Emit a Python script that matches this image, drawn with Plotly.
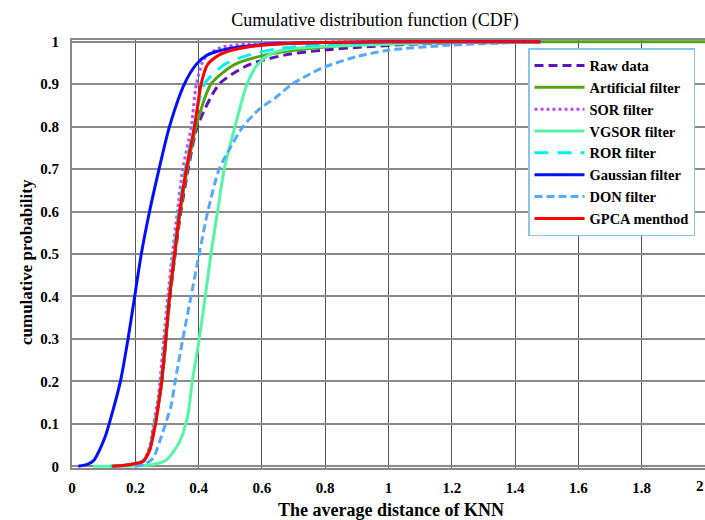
import plotly.graph_objects as go

# ---- data ----
raw_x = [0.13, 0.19, 0.225, 0.245, 0.261, 0.276, 0.284, 0.297, 0.31, 0.326, 0.344, 0.367, 0.396, 0.465, 0.56, 0.675, 0.79, 0.93, 1.1, 1.3, 1.48]
raw_y = [0, 0.005, 0.012, 0.038, 0.096, 0.159, 0.2, 0.3, 0.4, 0.5, 0.6, 0.7, 0.8, 0.9, 0.946, 0.969, 0.98, 0.988, 0.995, 0.999, 1]

art_x = [0.13, 0.19, 0.225, 0.245, 0.261, 0.276, 0.284, 0.297, 0.309, 0.325, 0.342, 0.364, 0.392, 0.439, 0.513, 0.612, 0.748, 0.89, 1.1, 1.4, 2.0]
art_y = [0, 0.005, 0.012, 0.038, 0.096, 0.159, 0.2, 0.3, 0.4, 0.5, 0.6, 0.7, 0.8, 0.9, 0.946, 0.969, 0.984, 0.993, 0.998, 1, 1]

sor_x = [0.13, 0.19, 0.225, 0.243, 0.258, 0.272, 0.278, 0.29, 0.303, 0.317, 0.333, 0.35, 0.377, 0.393, 0.418, 0.465, 0.56, 0.7, 1.0, 1.48]
sor_y = [0, 0.005, 0.013, 0.04, 0.1, 0.16, 0.2, 0.3, 0.4, 0.5, 0.6, 0.7, 0.8, 0.9, 0.96, 0.985, 0.995, 0.998, 1, 1]

vgsor_x = [0.066, 0.245, 0.298, 0.34, 0.366, 0.38, 0.402, 0.421, 0.439, 0.46, 0.481, 0.515, 0.553, 0.586, 0.622, 0.664, 0.8, 0.95, 1.2, 1.48]
vgsor_y = [0, 0.003, 0.015, 0.058, 0.12, 0.2, 0.3, 0.4, 0.5, 0.6, 0.7, 0.8, 0.9, 0.946, 0.969, 0.98, 0.989, 0.993, 0.998, 1]

ror_x = [0.12, 0.19, 0.225, 0.244, 0.26, 0.275, 0.281, 0.294, 0.306, 0.321, 0.337, 0.358, 0.385, 0.418, 0.481, 0.56, 0.654, 0.8, 1.0, 1.48]
ror_y = [0, 0.005, 0.012, 0.038, 0.096, 0.159, 0.2, 0.3, 0.4, 0.5, 0.6, 0.7, 0.8, 0.9, 0.946, 0.969, 0.984, 0.993, 0.999, 1]

gau_x = [0.02, 0.05, 0.07, 0.088, 0.105, 0.125, 0.153, 0.177, 0.198, 0.219, 0.245, 0.275, 0.308, 0.355, 0.392, 0.428, 0.497, 0.6, 0.8, 1.0, 1.48]
gau_y = [0, 0.005, 0.015, 0.04, 0.07, 0.12, 0.2, 0.3, 0.4, 0.5, 0.6, 0.7, 0.8, 0.9, 0.946, 0.969, 0.984, 0.993, 0.998, 1.0, 1.0]

don_x = [0.2, 0.23, 0.256, 0.287, 0.313, 0.326, 0.35, 0.376, 0.402, 0.429, 0.465, 0.5, 0.54, 0.59, 0.643, 0.695, 0.79, 0.9, 1.0, 1.195, 1.4, 1.48]
don_y = [0, 0.005, 0.019, 0.081, 0.143, 0.2, 0.3, 0.4, 0.5, 0.6, 0.7, 0.75, 0.8, 0.84, 0.868, 0.9, 0.938, 0.965, 0.98, 0.992, 0.998, 1]

gpca_x = [0.126, 0.19, 0.225, 0.245, 0.264, 0.276, 0.283, 0.296, 0.308, 0.324, 0.34, 0.361, 0.387, 0.408, 0.428, 0.465, 0.528, 0.62, 0.8, 1.0, 1.48]
gpca_y = [0, 0.005, 0.012, 0.038, 0.1, 0.16, 0.2, 0.3, 0.4, 0.5, 0.6, 0.7, 0.8, 0.9, 0.946, 0.969, 0.984, 0.993, 0.998, 1, 1]

x_ticks = [0, 0.2, 0.4, 0.6, 0.8, 1, 1.2, 1.4, 1.6, 1.8, 2]
y_ticks = [0, 0.1, 0.2, 0.3, 0.4, 0.5, 0.6, 0.7, 0.8, 0.9, 1]

series = [
    ("Raw data", raw_x, raw_y, "#5c14b4", "9px,5px"),
    ("Artificial filter", art_x, art_y, "#52a316", "solid"),
    ("SOR filter", sor_x, sor_y, "#b44cf5", "3px,3px"),
    ("VGSOR filter", vgsor_x, vgsor_y, "#55f5a5", "solid"),
    ("ROR filter", ror_x, ror_y, "#00f0f0", "14px,9px"),
    ("Gaussian filter", gau_x, gau_y, "#0010ff", "solid"),
    ("DON filter", don_x, don_y, "#55aaff", "8px,4px"),
    ("GPCA menthod", gpca_x, gpca_y, "#ff0000", "solid"),
]

SERIF = "Liberation Serif"
L, R, T, B = 72, 0, 40, 52
PW, PH = 705 - L - R, 520 - T - B

fig = go.Figure()
for name, xs, ys, col, dash in series:
    fig.add_trace(go.Scatter(x=xs, y=ys, mode="lines", name=f"<b>{name}</b>",
                             line=dict(color=col, width=3, dash=dash,
                                       shape="spline", smoothing=0.7)))

annotations = [
    dict(text="<b>The average distance of KNN</b>", xref="paper", yref="paper",
         x=(391 - L) / PW, y=-(510 - (520 - B)) / PH,
         showarrow=False, font=dict(family=SERIF, size=18, color="black"),
         xanchor="center", yanchor="middle"),
    dict(text="<b>cumulative probability</b>", textangle=-90, xref="paper", yref="paper",
         x=-(L - 26) / PW, y=((520 - B) - 262) / PH,
         showarrow=False, font=dict(family=SERIF, size=17, color="black"),
         xanchor="center", yanchor="middle"),
    # last x tick label, which sits on the figure's right edge
    dict(text=f"<b>{x_ticks[-1]:g}</b>", xref="x", yref="paper", x=x_ticks[-1],
         y=-(486 - (520 - B)) / PH, showarrow=False,
         font=dict(family=SERIF, size=15, color="black"),
         xanchor="right", yanchor="middle", borderpad=0),
]

fig.update_layout(
    width=705, height=520,
    margin=dict(l=L, r=R, t=T, b=B, autoexpand=False),
    paper_bgcolor="white", plot_bgcolor="white",
    title=dict(text="Cumulative distribution function (CDF)", x=375 / 705, xanchor="center",
               y=1 - 20 / 520, yanchor="middle",
               font=dict(family=SERIF, size=18, color="black")),
    showlegend=True,
    legend=dict(x=(528 - L) / PW, y=1 - (48 - T) / PH, xanchor="left", yanchor="top",
                bgcolor="white", bordercolor="#8cc4e8", borderwidth=1.5,
                font=dict(family=SERIF, size=14.5, color="black"),
                itemwidth=50, tracegroupgap=0),
    annotations=annotations,
)

fig.update_xaxes(range=[0, 2], tickvals=x_ticks[:-1], ticktext=[f"<b>{v:g}</b>" for v in x_ticks[:-1]],
                 showgrid=True, gridcolor="#555555", gridwidth=1,
                 showline=True, linecolor="#888888", linewidth=1.5, mirror=True,
                 zeroline=False, ticks="", ticklabelstandoff=5,
                 tickfont=dict(family=SERIF, size=15, color="black"))
fig.update_yaxes(range=[-0.004, 1.004], tickvals=y_ticks, ticktext=[f"<b>{v:g}</b>" for v in y_ticks],
                 showgrid=True, gridcolor="#8a8a8a", gridwidth=1.5,
                 showline=True, linecolor="#888888", linewidth=2,
                 zeroline=False, ticks="", ticklabelstandoff=8,
                 tickfont=dict(family=SERIF, size=15, color="black"))

fig.write_html("out.html", config={"displayModeBar": False},
               post_script="document.body.style.margin='0';document.body.style.overflow='hidden';")
